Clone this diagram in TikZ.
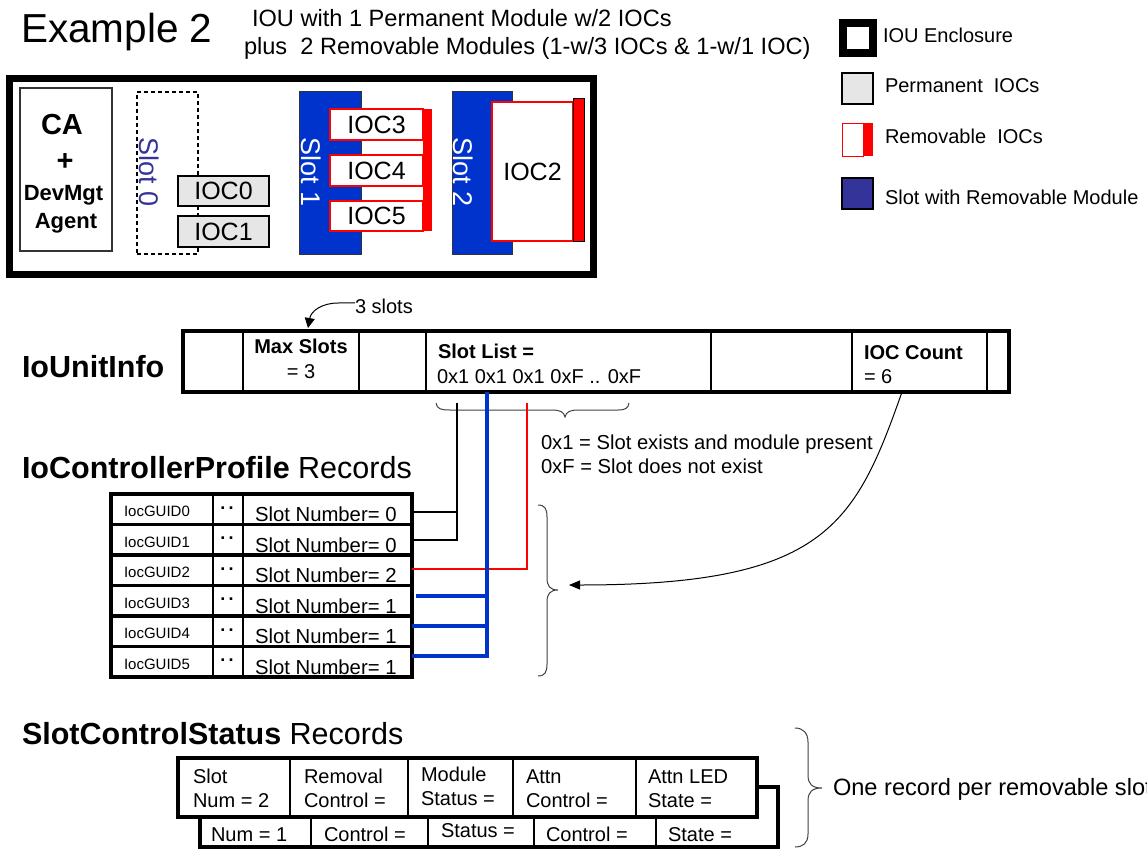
\documentclass[tikz,border=0pt]{standalone}
\usepackage{fontspec}
\setmainfont{Liberation Sans}
\usetikzlibrary{fit,arrows.meta}
\definecolor{slotblue}{RGB}{0,51,204}
\definecolor{legblue}{RGB}{51,51,153}
\definecolor{iocgray}{RGB}{230,230,230}
\definecolor{bracegray}{RGB}{64,64,64}
\newcommand{\fsz}[1]{\fontsize{#1}{#1}\selectfont}
\begin{document}
\begin{tikzpicture}[x=1pt,y=-1pt,
  every node/.style={inner sep=0pt,outer sep=0pt},
  rbox/.style={fit={#1}, rectangle, inner sep=0pt},
  cell/.style={draw, line width=1.2pt},
  thick box/.style={draw, line width=#1},
  brace/.style={draw=bracegray, line width=1pt},
  conn/.style={line width=1pt, -{Triangle[length=10pt,width=10pt]}},
  lbl/.style={anchor=base west},
  ioctext/.style={font=\fsz{25}},
]
\useasboundingbox (0,0) rectangle (1147,848);

% ---------- titles ----------
\node[lbl] (title) at (21,43) {\fsz{40.5}Example 2};
\node[lbl] (sub1) at (252,27) {\fsz{23.6}IOU with 1 Permanent Module w/2 IOCs};
\node[lbl] (sub2) at (244,55) {\fsz{23.6}plus\ \ 2 Removable Modules (1-w/3 IOCs \& 1-w/1 IOC)};

% ---------- enclosure ----------
\node[thick box=7pt, rbox={(9.5,78.5) (593.5,274.5)}] (iou) {};
\node[draw=black!80, line width=1.5pt, rbox={(20,88) (112,251)}] (ca) {};
\node[anchor=base] (ca1) at (62,135) {\fsz{29}\bfseries CA};
\node[anchor=base] (ca2) at (65,170) {\fsz{29}\bfseries +};
\node[anchor=base] (ca3) at (63.5,200) {\fsz{22}\bfseries DevMgt};
\node[anchor=base] (ca4) at (66,228) {\fsz{22}\bfseries Agent};

\node[draw, dashed, dash pattern=on 4pt off 3pt, line width=1.5pt, rbox={(137,92) (198,254)}] (slot0) {};
\node[rotate=-90, text=legblue] (slot0t) at (149,172) {\fsz{27}Slot 0};
\node[cell, fill=iocgray, rbox={(178,176) (269,206)}] (ioc0) {};
\node[ioctext] (ioc0t) at (ioc0.center) {IOC0};
\node[cell, fill=iocgray, rbox={(178,216) (269,247)}] (ioc1) {};
\node[ioctext] (ioc1t) at (ioc1.center) {IOC1};

\node[draw=black!80, fill=slotblue, line width=1pt, rbox={(299,92) (361,254)}] (slot1) {};
\node[rotate=-90, text=white] (slot1t) at (311,172) {\fsz{27}Slot 1};
\node[draw=red, fill=white, line width=1.2pt, rbox={(330,109) (423,140)}] (ioc3) {};
\node[ioctext] (ioc3t) at (ioc3.center) {IOC3};
\node[draw=red, fill=white, line width=1.2pt, rbox={(330,155) (423,186)}] (ioc4) {};
\node[ioctext] (ioc4t) at (ioc4.center) {IOC4};
\node[draw=red, fill=white, line width=1.2pt, rbox={(330,201) (423,231)}] (ioc5) {};
\node[ioctext] (ioc5t) at (ioc5.center) {IOC5};
\node[fill=red, rbox={(423,109) (432,231)}] (bar1) {};

\node[draw=black!80, fill=slotblue, line width=1pt, rbox={(452,92) (512,254)}] (slot2) {};
\node[rotate=-90, text=white] (slot2t) at (463,172) {\fsz{27}Slot 2};
\node[draw=red, fill=white, line width=1.2pt, rbox={(492,102) (573,241)}] (ioc2) {};
\node[ioctext] (ioc2t) at (ioc2.center) {IOC2};
\node[draw, fill=red, line width=1pt, rbox={(573,99) (584,241)}] (bar2) {};

% ---------- legend ----------
\node[thick box=8pt, rbox={(843,23) (873,53)}] (lg1) {};
\node[lbl] (lg1t) at (883,43) {\fsz{20}IOU Enclosure};
\node[cell, fill=iocgray, rbox={(842,73) (873,104)}] (lg2) {};
\node[lbl] (lg2t) at (885,93) {\fsz{20}Permanent\ \ IOCs};
\node[draw=red, line width=1pt, rbox={(842,123) (863,156)}] (lg3a) {};
\node[fill=red, rbox={(863,123) (873,156)}] (lg3b) {};
\node[lbl] (lg3t) at (885,143) {\fsz{20}Removable\ \ IOCs};
\node[cell, fill=legblue, rbox={(842,178) (873,209)}] (lg4) {};
\node[lbl] (lg4t) at (885,204) {\fsz{20}Slot with Removable Module};

% ---------- IoUnitInfo ----------
\node[lbl] (iuiL) at (22,377) {\fsz{30.5}\bfseries IoUnitInfo};
\node[cell, rbox={(183,331) (243,392)}] (u1) {};
\node[cell, rbox={(243,331) (359,392)}] (u2) {};
\node[cell, rbox={(359,331) (426,392)}] (u3) {};
\node[cell, rbox={(426,331) (711,392)}] (u4) {};
\node[cell, rbox={(711,331) (852,392)}] (u5) {};
\node[cell, rbox={(852,331) (987,392)}] (u6) {};
\node[cell, rbox={(987,331) (1009,392)}] (u7) {};
\node[thick box=4pt, rbox={(183,331) (1009,392)}] (iui) {};
\node[anchor=base] (maxs) at (301,353) {\fsz{20}\bfseries Max Slots};
\node[anchor=base] (maxv) at (301,378) {\fsz{20}= 3};
\node[lbl] (sll) at (438,358) {\fsz{20}\bfseries Slot List =};
\node[lbl] (slv) at (437,383) {\fsz{20}0x1 0x1 0x1 0xF .. 0xF};
\node[lbl] (iocc) at (864,359) {\fsz{20}\bfseries IOC Count};
\node[lbl] (ioccv) at (864,383) {\fsz{20}= 6};

\node[lbl] (three) at (355,313) {\fsz{20}3 slots};
\coordinate (threetip) at (308,328);
\draw[conn] ([yshift=3pt]three.west) -- (338,303) .. controls (322,303) and (311,311) .. (threetip);

\draw[brace] (436,403) .. controls (437,409) and (441,410) .. (450,410) -- (552,410)
  .. controls (560,410) and (564,412) .. (565,417) .. controls (566,412) and (570,410) .. (578,410)
  -- (618,410) .. controls (626,410) and (628,408) .. (629,403);
\node[lbl] (leg1) at (541,449) {\fsz{20.2}0x1 = Slot exists and module present};
\node[lbl] (leg2) at (541,473) {\fsz{20.2}0xF = Slot does not exist};

% ---------- IoControllerProfile ----------
\node[lbl] (icpL) at (22,478) {\fsz{30.5}\textbf{IoControllerProfile} Records};
\foreach \i/\n in {0/0,1/0,2/2,3/1,4/1,5/1}{
  \pgfmathsetmacro\ya{494+30.5*\i}
  \pgfmathsetmacro\yb{\ya+30.5}
  \pgfmathsetmacro\yc{\ya+15.25}
  \node[cell, rbox={(111,\ya) (213,\yb)}] (g\i) {};
  \node[cell, rbox={(213,\ya) (243,\yb)}] (d\i) {};
  \node[cell, rbox={(243,\ya) (412,\yb)}] (s\i) {};
  \node[lbl] (gt\i) at (124,\yc+7.5) {\fsz{15}IocGUID\i};
  \node[anchor=base] (dt\i) at (227,\yc) {\fsz{18}\textbf{.}\kern3.5pt\textbf{.}};
  \node[lbl] (st\i) at (255,\yc+12.5) {\fsz{20.3}Slot Number= \n};
}
\foreach \i in {0,...,5}{
  \pgfmathsetmacro\ya{494+30.5*\i}
  \pgfmathsetmacro\yb{\ya+30.5}
  \node[thick box=3.5pt, rbox={(111,\ya) (412,\yb)}] (r\i) {};
}

\coordinate (blkTop) at (457,403);
\coordinate (redTop) at (527,403);
\coordinate (bluTop) at (487,392);
\draw[line width=2.5pt] ([yshift=-2.75pt]s0.east) -| (blkTop);
\draw[line width=2.5pt] (s1.east) -| (blkTop);
\draw[red, line width=2pt] ([yshift=1.25pt]s2.east) -| (redTop);
\draw[slotblue, line width=3.2pt] ([shift={(4pt,4.75pt)}]s3.east) -| (bluTop);
\draw[slotblue, line width=3.2pt] ([yshift=5.25pt]s4.east) -| (bluTop);
\draw[slotblue, line width=3.2pt] ([yshift=5.75pt]s5.east) -| (bluTop);

\draw[brace] (538,505) .. controls (545,505) and (547,509) .. (547,517) -- (547,578)
  .. controls (547,586) and (550,590) .. (558,590) .. controls (550,590) and (547,594) .. (547,602)
  -- (547,664) .. controls (547,672) and (545,676) .. (538,676);
\coordinate (arrtip) at (569,585);
\draw[line width=1pt, -{Triangle[length=11pt,width=9pt]}] ([xshift=-17.5pt]u6.south)
  .. controls (855,525) and (825,585) .. (arrtip);

% ---------- SlotControlStatus ----------
\node[lbl] (scsL) at (22,744) {\fsz{30.5}\textbf{SlotControlStatus} Records};
% back record
\node[cell, rbox={(200,787) (311,847)}] (q1) {};
\node[cell, rbox={(311,787) (428,847)}] (q2) {};
\node[cell, rbox={(428,787) (534,847)}] (q3) {};
\node[cell, rbox={(534,787) (656,847)}] (q4) {};
\node[cell, rbox={(656,787) (778,847)}] (q5) {};
\node[thick box=4pt, rbox={(200,787) (778,847)}] (rec2) {};
% front record
\node[cell, fill=white, rbox={(178,758) (290,817)}] (p1) {};
\node[cell, fill=white, rbox={(290,758) (408,817)}] (p2) {};
\node[cell, fill=white, rbox={(408,758) (513,817)}] (p3) {};
\node[cell, fill=white, rbox={(513,758) (636,817)}] (p4) {};
\node[cell, fill=white, rbox={(636,758) (757,817)}] (p5) {};
\node[thick box=4pt, rbox={(178,758) (757,817)}] (rec1) {};

\node[lbl] (p1a) at (193,783) {\fsz{20}Slot};
\node[lbl] (p1b) at (193,807) {\fsz{20}Num = 2};
\node[lbl] (p2a) at (304,783) {\fsz{20}Removal};
\node[lbl] (p2b) at (304,807) {\fsz{20}Control =};
\node[lbl] (p3a) at (421,781) {\fsz{20}Module};
\node[lbl] (p3b) at (421,805) {\fsz{20}Status =};
\node[lbl] (p4a) at (526,783) {\fsz{20}Attn};
\node[lbl] (p4b) at (526,807) {\fsz{20}Control =};
\node[lbl] (p5a) at (648,783) {\fsz{20}Attn LED};
\node[lbl] (p5b) at (648,807) {\fsz{20}State =};

\node[lbl] (q1t) at (211,841) {\fsz{20}Num = 1};
\node[lbl] (q2t) at (324,841) {\fsz{20}Control =};
\node[lbl] (q3t) at (441,837) {\fsz{20}Status =};
\node[lbl] (q4t) at (546,841) {\fsz{20}Control =};
\node[lbl] (q5t) at (668,841) {\fsz{20}State =};

\draw[brace] (795,728) .. controls (803,728) and (808,733) .. (808,742) -- (808,775)
  .. controls (808,784) and (812,788) .. (822,788) .. controls (812,788) and (808,792) .. (808,801)
  -- (808,834) .. controls (808,843) and (803,847) .. (795,847);
\node[lbl] (onerec) at (833,795) {\fsz{23.6}One record per removable slot};
\end{tikzpicture}
\end{document}
